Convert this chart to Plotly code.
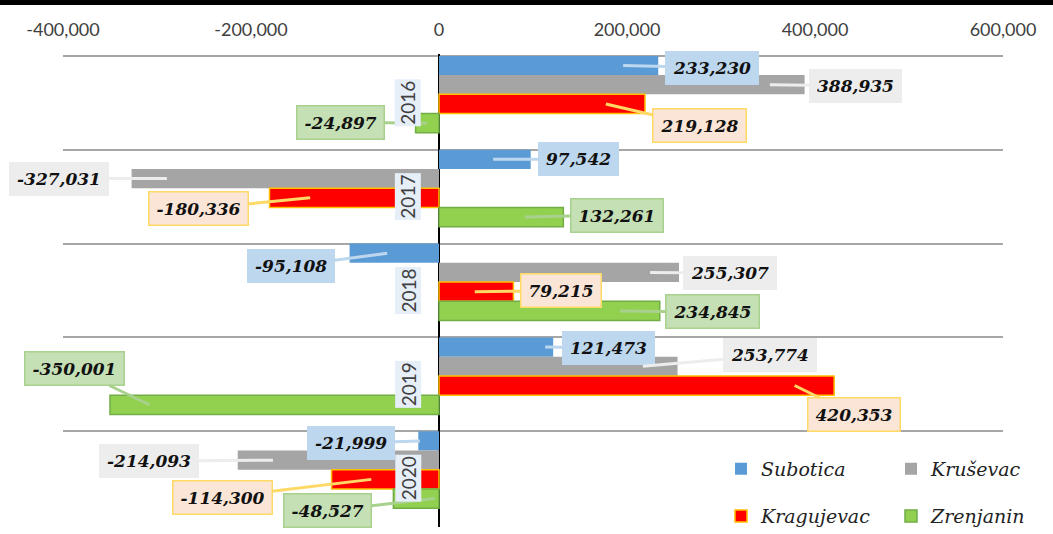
import plotly.graph_objects as go

# Yearly values per city
YEARS = ["2016", "2017", "2018", "2019", "2020"]
SUBOTICA = [233230, 97542, -95108, 121473, -21999]
KRUSEVAC = [388935, -327031, 255307, 253774, -214093]
KRAGUJEVAC = [219128, -180336, 79215, 420353, -114300]
ZRENJANIN = [-24897, 132261, 234845, -350001, -48527]

TICK_VALUES = [-400000, -200000, 0, 200000, 400000, 600000]
TICK_LABELS = ["-400,000", "-200,000", "0", "200,000", "400,000", "600,000"]

# Series styling: name, values, bar fill, bar outline, label fill, label outline, legend id
SERIES = [
    ("Subotica", SUBOTICA, "#5B9BD5", None, "#BDD7EE", "#BDD7EE", "legend"),
    ("Kruševac", KRUSEVAC, "#A5A5A5", None, "#EDEDED", "#EDEDED", "legend"),
    ("Kragujevac", KRAGUJEVAC, "#FF0000", "#FFC000", "#FBE5D6", "#FFD966", "legend2"),
    ("Zrenjanin", ZRENJANIN, "#92D050", "#70AD47", "#C5E0B4", "#A9D18E", "legend2"),
]

# Callout placement: where the pointer meets the bar (fraction of bar length)
# and the pixel offset of the label box from that point, per series and year.
TIP_FRAC = [
    [0.84, 0.59, 0.58, 0.93, 0.92],
    [0.905, 0.885, 0.88, 0.855, 0.825],
    [0.81, 0.76, 0.48, 0.90, 0.63],
    [0.51, 0.69, 0.82, 0.88, 0.09],
]
LABEL_DX = [
    [89, 85, -96, 63, -69],
    [86, -108, 80, 127, -124],
    [94, -112, 86, 59, -149],
    [-87, 92, 92, -75, -107],
]
LABEL_DY = [
    [2, 0, 13, 1, 2],
    [1, 0, 1, -11, 1],
    [22, 11, -1, 29, 18],
    [-1, -2, 1, -36, 12],
]

BAR_W = 0.205

fig = go.Figure()
annotations = []

for j, (name, vals, fill, outline, lab_bg, lab_line, leg) in enumerate(SERIES):
    marker = dict(color=fill)
    if outline:
        marker["line"] = dict(color=outline, width=1.5)
    else:
        marker["line"] = dict(width=0)
    offset = -0.5 + BAR_W * j
    fig.add_trace(go.Bar(
        name=name, y=YEARS, x=vals, orientation="h",
        width=BAR_W, offset=offset, marker=marker, legend=leg,
        hoverinfo="skip",
    ))
    for k, v in enumerate(vals):
        annotations.append(dict(
            x=v * TIP_FRAC[j][k], y=k + offset + BAR_W / 2,
            xref="x", yref="y",
            text=f"{v:,}",
            showarrow=True, arrowhead=0, arrowwidth=3,
            arrowcolor=lab_line if outline else lab_bg,
            standoff=0, startstandoff=0,
            ax=LABEL_DX[j][k], ay=LABEL_DY[j][k],
            bgcolor=lab_bg, bordercolor=lab_line,
            borderwidth=1.5 if outline else 1, borderpad=7, height=18,
            font=dict(family="DejaVu Serif", size=17, color="#111111",
                      weight="bold", style="italic"),
        ))

# Year labels sitting beside the zero line
for k, yr in enumerate(YEARS):
    annotations.append(dict(
        x=0, y=k, xref="x", yref="y", text=yr, textangle=-90,
        showarrow=False, xshift=-31, bgcolor="#E6EEF8", borderpad=1,
        font=dict(family="Lato", size=19, color="#404040"),
    ))

# Heavy rule across the very top of the figure
shapes = [dict(
    type="rect", xref="paper", yref="paper",
    x0=-0.07, x1=1.06, y0=1.1036, y1=1.13,
    fillcolor="black", line=dict(width=0), layer="above",
)]

legend_font = dict(family="DejaVu Serif", size=19, color="#222222", style="italic")
fig.update_layout(
    width=1053, height=534,
    margin=dict(l=63, r=50, t=54, b=7, autoexpand=False),
    paper_bgcolor="white", plot_bgcolor="white",
    barmode="overlay",
    showlegend=True,
    annotations=annotations,
    shapes=shapes,
    xaxis=dict(
        range=[-400000, 600000], side="top",
        tickvals=TICK_VALUES, ticktext=TICK_LABELS,
        showgrid=False, zeroline=True, zerolinecolor="black", zerolinewidth=2,
        ticks="", ticklabelstandoff=13,
        tickfont=dict(family="Lato", size=18, color="#404040"),
    ),
    yaxis=dict(
        type="category", range=[4.52, -0.52],
        showgrid=True, gridcolor="#A6A6A6", gridwidth=2,
        tickson="boundaries", ticks="", showticklabels=False, zeroline=False,
    ),
    legend=dict(
        orientation="h", x=0.70, xanchor="left", y=0.123, yanchor="middle",
        bgcolor="rgba(0,0,0,0)", font=legend_font,
        entrywidth=125, entrywidthmode="pixels", traceorder="normal",
    ),
    legend2=dict(
        orientation="h", x=0.70, xanchor="left", y=0.023, yanchor="middle",
        bgcolor="rgba(0,0,0,0)", font=legend_font,
        entrywidth=125, entrywidthmode="pixels", traceorder="normal",
    ),
)

fig.write_html("out.html")
